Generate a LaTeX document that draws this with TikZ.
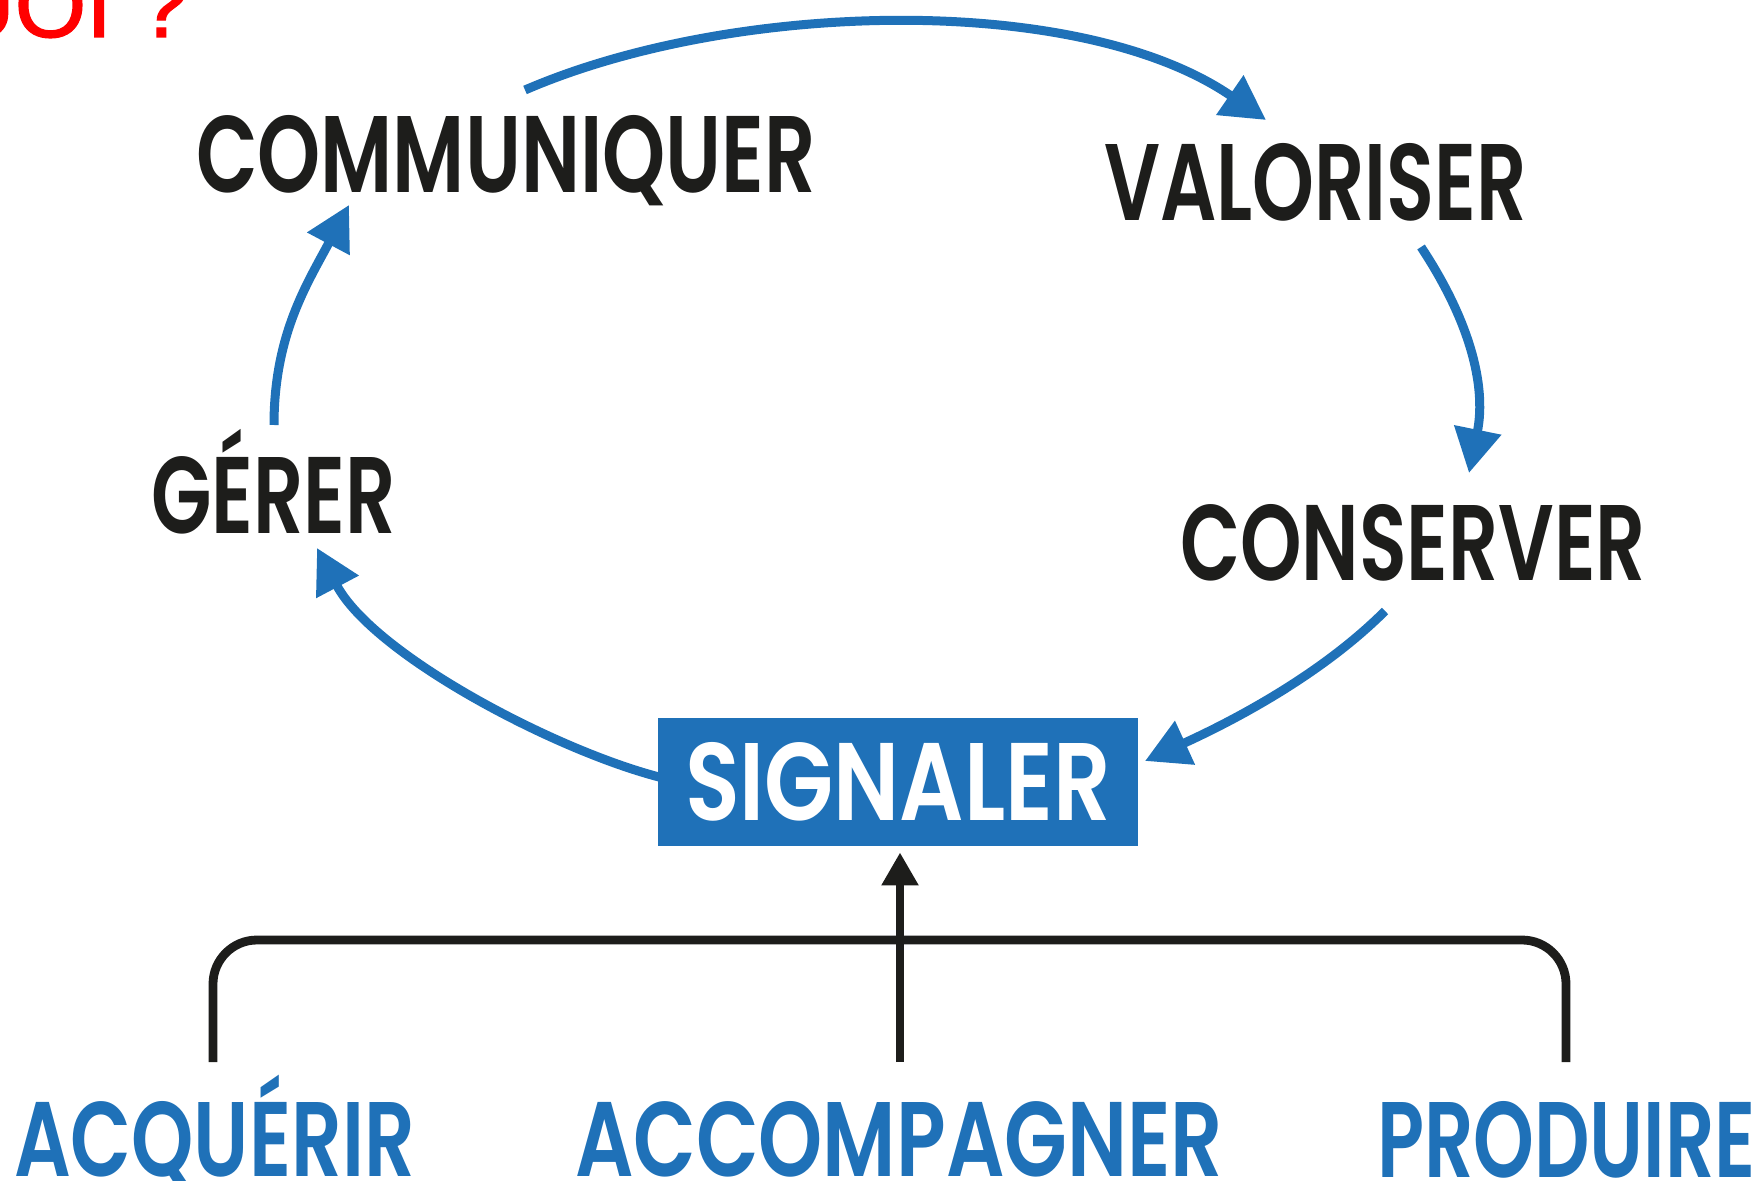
\documentclass[tikz,border=0pt]{standalone}
\usepackage{fontspec}
\usepackage{graphicx}
\setmainfont{Poppins}[BoldFont={Poppins SemiBold}]
\newfontfamily\arialf{Liberation Sans}[FakeBold=1.5]
\usetikzlibrary{arrows.meta}
\definecolor{dblue}{RGB}{31,113,184}
\definecolor{dblack}{RGB}{29,29,27}
\newdimen\fitw \newdimen\fith
% #1 target width (px), #2 target cap height (px), #3 text
\newcommand\fittext[3]{\setbox0=\hbox{#3}\setbox2=\hbox{H}\fitw=\wd0 \fith=\ht2 \pgfmathsetmacro\fitsx{0.5*#1/\fitw}\pgfmathsetmacro\fitsy{0.5*#2/\fith}\scalebox{\fitsx}[\fitsy]{\box0}}
\begin{document}
\begin{tikzpicture}[x=0.5pt,y=-0.5pt,
  lbl/.style={inner sep=0pt, anchor=base, text=dblack, font=\fontsize{50}{60}\selectfont\bfseries},
  blbl/.style={lbl, text=dblue},
  sigbox/.style={fill=dblue, text=white, inner sep=0pt, minimum width=240pt, minimum height=64pt, font=\fontsize{50}{60}\selectfont\bfseries},
  titletext/.style={inner sep=0pt, anchor=base east, text=red, font=\arialf\fontsize{46}{50}\selectfont},
  barr/.style={draw=dblue, line width=4.5pt, -{Triangle[length=22pt,width=23pt]}},
  karr/.style={draw=dblack, line width=4.4pt, -{Triangle[length=16.5pt,width=17.5pt]}},
  brk/.style={draw=dblack, line width=4.4pt, rounded corners=22pt}]
\useasboundingbox (0,0) rectangle (1760,1181);

\node[titletext] (title) at (189,37) {POURQUOI ?};

\node[lbl] (comm) at (506,193) {\fittext{620}{76}{COMMUNIQUER}};
\node[lbl] (valo) at (1315.5,221) {\fittext{423}{76}{VALORISER}};
\node[lbl] (gerer) at (273.5,533) {\fittext{245}{76}{GÉRER}};
\node[lbl] (cons) at (1413,580) {\fittext{466}{75}{CONSERVER}};
\node[sigbox] (sig) at (898,782) {\fittext{426}{77}{SIGNALER}};
\node[blbl] (acq) at (214.5,1176) {\fittext{401}{74}{ACQUÉRIR}};
\node[blbl] (acc) at (899,1176) {\fittext{648}{74}{ACCOMPAGNER}};
\node[blbl] (prod) at (1566.5,1177) {\fittext{379}{75}{PRODUIRE}};

% connector ends
\coordinate (commR) at (525,90);
\coordinate (valoT) at (1266,120);
\coordinate (valoB) at (1421,247);
\coordinate (consT) at (1469,473);
\coordinate (consB) at (1385,611);
\coordinate (sigR) at (1145,761);
\coordinate (sigL) at (659,777);
\coordinate (gererB) at (317,548);
\coordinate (gererT) at (274,425);
\coordinate (commB) at (349,205);
\coordinate (accT) at (900,1062);
\coordinate (acqT) at (213,1062);
\coordinate (prodT) at (1566,1062);

\draw[barr] (commR) .. controls (733,0) and (1080,-8) .. (valoT);
\draw[barr] (valoB) .. controls (1468,318) and (1487,384) .. (consT);
\draw[barr] (consB) .. controls (1318,678) and (1226,724) .. (sigR);
\draw[barr] (sigL) .. controls (552,749) and (373,654) .. (gererB);
\draw[barr] (gererT) .. controls (274,335) and (307,284) .. (commB);

\draw[brk] (acqT) -- (213,940) -- (1566,940) -- (prodT);
\draw[karr, shorten >=3pt] (accT) -- (accT |- sig.south);
\end{tikzpicture}
\end{document}
